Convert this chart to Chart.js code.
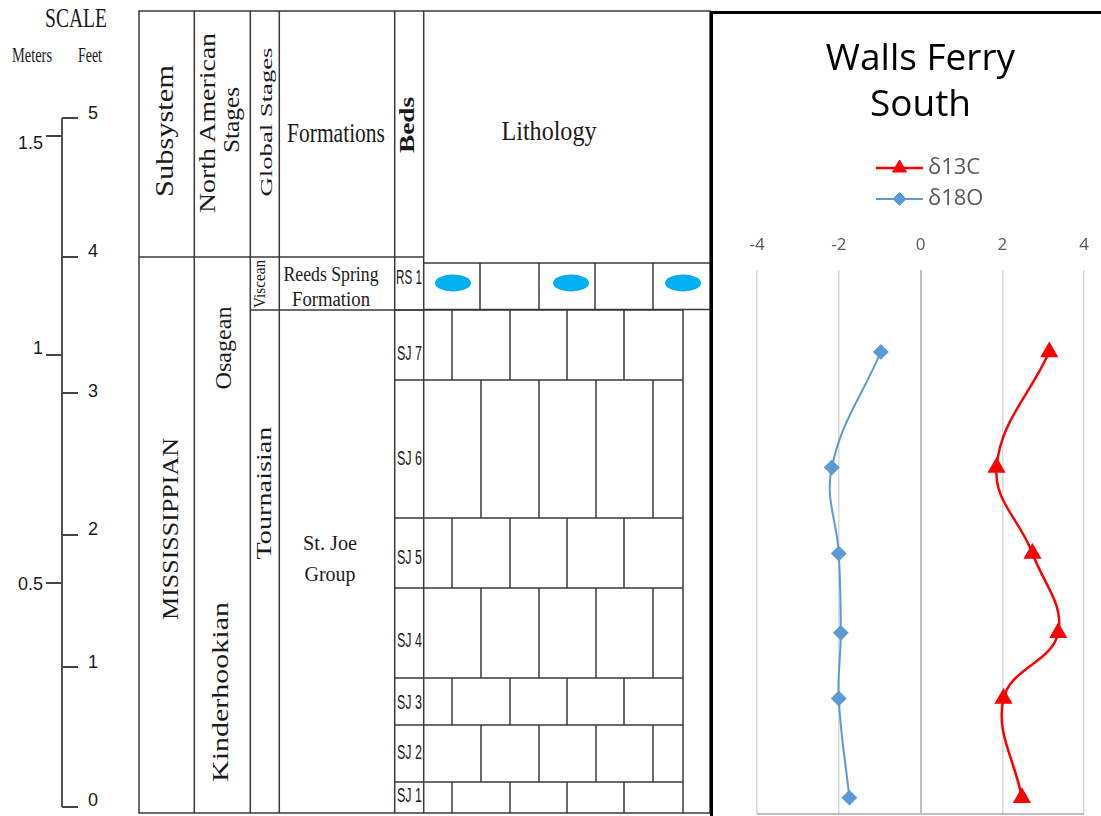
<!DOCTYPE html>
<html>
<head>
<meta charset="utf-8">
<script src="https://cdn.jsdelivr.net/npm/chart.js@4.4.0/dist/chart.umd.min.js"></script>
<style>
  html, body { margin: 0; padding: 0; background: #fff; }
  #page { position: relative; width: 1101px; height: 816px; overflow: hidden; }
  #column { position: absolute; left: 0; top: 0; }
  #panel {
    position: absolute; left: 710px; top: 11px; width: 391px; height: 805px;
    border-left: 3px solid #000; border-top: 3px solid #000;
    box-sizing: border-box; background: #fff;
  }
  #chart { display: block; }
</style>
</head>
<body>
<div id="page">
  <svg id="column" width="1101" height="816" xmlns="http://www.w3.org/2000/svg"></svg>
  <div id="panel"><canvas id="chart" width="388" height="802"></canvas></div>
</div>
<script>
// ---- chart data (height above base of section in metres) ----
const sampleHeights = [0.036, 0.255, 0.40, 0.575, 0.765, 1.02];
const d13C = [2.48, 2.03, 3.37, 2.74, 1.86, 3.15];
const d18O = [-1.74, -2.00, -1.95, -2.00, -2.17, -0.97];
const xTickValues = [-4, -2, 0, 2, 4];
const seriesNames = ['δ13C', 'δ18O'];
const chartTitle = ['Walls Ferry', 'South'];

// ---- stratigraphic column labels ----
const feetLabels = ['0', '1', '2', '3', '4', '5'];
const meterLabels = ['0.5', '1', '1.5'];
const bedNames = ['SJ 1', 'SJ 2', 'SJ 3', 'SJ 4', 'SJ 5', 'SJ 6', 'SJ 7'];

// Build the column on the left as svg
const svg = document.getElementById('column');
const NS = 'http://www.w3.org/2000/svg';
const SERIF = "'Liberation Serif', 'Times New Roman', serif";
const NARROW = "'Liberation Sans Narrow', 'Liberation Sans', sans-serif";
const CHART_FONT = "'Open Sans', Lato, sans-serif";

function add(tag, attrs, text) {
  const node = document.createElementNS(NS, tag);
  for (const k in attrs) node.setAttribute(k, attrs[k]);
  if (text !== undefined) node.textContent = text;
  svg.appendChild(node);
  return node;
}
function line(x1, y1, x2, y2, color = '#3a3a3a', w = 1.5) {
  add('line', { x1, y1, x2, y2, stroke: color, 'stroke-width': w });
}
// o: size, len, rotate, anchor, base, family, weight
function label(str, x, y, o) {
  const a = {
    x: 0, y: 0,
    'font-family': o.family || SERIF,
    'font-size': o.size,
    'font-weight': o.weight || 'normal',
    fill: '#1a1a1a',
    'text-anchor': o.anchor || 'middle',
    'dominant-baseline': o.base || 'central',
    transform: `translate(${x},${y})` + (o.rotate ? ' rotate(-90)' : '')
  };
  if (o.len) { a.textLength = o.len; a.lengthAdjust = 'spacingAndGlyphs'; }
  add('text', a, str);
}

// scale bar
label('SCALE', 76, 18, { size: 27, len: 62 });
label('Meters', 32, 55, { size: 20, len: 40 });
label('Feet', 90, 55, { size: 20, len: 24 });
line(62, 118, 62, 807, '#555', 2);
const feetY = [807, 667, 535, 393, 257, 118];
const feetLabelY = [800, 662, 529, 391, 251, 113];
feetLabels.forEach((t, i) => {
  line(62, feetY[i], 78, feetY[i], '#444', 2);
  label(t, 88, feetLabelY[i], { size: 18, anchor: 'start', family: NARROW });
});
const meterY = [583, 355, 136];
const meterLabelY = [584, 348, 143];
meterLabels.forEach((t, i) => {
  line(46, meterY[i], 62, meterY[i], '#444', 2);
  label(t, 43, meterLabelY[i], { size: 18, anchor: 'end', family: NARROW });
});

// table frame
add('rect', { x: 139, y: 11, width: 571, height: 802, fill: 'none', stroke: '#3a3a3a', 'stroke-width': 1.5 });
[194.3, 250.3, 279.3, 394.7, 423.7].forEach(x => line(x, 11, x, 813));
line(139, 257, 424, 257);
line(424, 263, 710, 263);
line(250, 310, 424, 310);
line(424, 309.5, 710, 309.5);
line(683, 310, 683, 813);

// lithology: chert nodules row then limestone bricks
[480, 539, 595, 653].forEach(x => line(x, 263, x, 310));
[453, 571, 683].forEach(cx => add('ellipse', { cx, cy: 283, rx: 18, ry: 8.5, fill: '#00b0f0' }));
const bedTops = [813, 782, 725, 678, 588, 518, 380, 310];
const bedLabelY = [795, 752, 702, 640, 557, 458, 353];
bedNames.forEach((name, i) => {
  const bottom = bedTops[i], top = bedTops[i + 1];
  line(395, top, 683, top);
  const xs = i % 2 === 0 ? [452, 510, 567, 624] : [481, 539, 596, 653];
  xs.forEach(x => line(x, top, x, bottom));
  label(name, 397, bedLabelY[i], { size: 20, anchor: 'start', len: 25, family: NARROW });
});

// header texts
label('Subsystem', 164, 131, { size: 26, len: 132, rotate: true });
label('North American', 207, 123, { size: 24, len: 180, rotate: true });
label('Stages', 231, 120, { size: 24, len: 66, rotate: true });
label('Global Stages', 266.5, 122, { size: 17, len: 149, rotate: true });
label('Formations', 336, 141.5, { size: 27, len: 98, base: 'alphabetic' });
label('Beds', 407, 125, { size: 20, len: 56, rotate: true, weight: 'bold' });
label('Lithology', 549, 140, { size: 28, len: 95, base: 'alphabetic' });

// body texts
label('MISSISSIPPIAN', 170, 529, { size: 23, len: 182, rotate: true });
label('Osagean', 223, 348, { size: 24, len: 83, rotate: true });
label('Kinderhookian', 220, 692, { size: 24, len: 180, rotate: true });
label('Viscean', 259, 284, { size: 17, len: 48, rotate: true });
label('Tournaisian', 263, 493, { size: 22, len: 133, rotate: true });
label('Reeds Spring', 331, 281, { size: 20, len: 95, base: 'alphabetic' });
label('Formation', 331, 306, { size: 20, len: 78, base: 'alphabetic' });
label('RS 1', 396, 277, { size: 20, len: 26, anchor: 'start', family: NARROW });
label('St. Joe', 330, 550, { size: 22, len: 54, base: 'alphabetic' });
label('Group', 330, 581, { size: 22, len: 51, base: 'alphabetic' });

// ---- isotope chart ----
const toPoints = xs => sampleHeights.map((h, i) => ({ x: xs[i], y: h }));

// legend drawn as two stacked rows, centred under the title
const stackedLegend = {
  id: 'stackedLegend',
  afterDraw(chart, args, opts) {
    const ctx = chart.ctx;
    ctx.save();
    chart.data.datasets.forEach((ds, i) => {
      const y = opts.top + i * opts.rowGap;
      ctx.strokeStyle = ds.borderColor;
      ctx.lineWidth = ds.borderWidth;
      ctx.beginPath();
      ctx.moveTo(opts.x, y);
      ctx.lineTo(opts.x + opts.lineLength, y);
      ctx.stroke();
      ctx.fillStyle = ds.pointBackgroundColor;
      ctx.strokeStyle = ds.pointBorderColor;
      ctx.lineWidth = 1;
      Chart.helpers.drawPoint(ctx, { pointStyle: ds.pointStyle, radius: ds.pointRadius, rotation: 0, borderWidth: 1 },
        opts.x + opts.lineLength / 2, y);
      ctx.fillStyle = opts.color;
      ctx.font = `${opts.size}px ${CHART_FONT}`;
      ctx.textAlign = 'left';
      ctx.textBaseline = 'middle';
      ctx.fillText(ds.label, opts.x + opts.lineLength + opts.gap, y);
    });
    ctx.restore();
  }
};

new Chart(document.getElementById('chart'), {
  type: 'scatter',
  data: {
    datasets: [
      {
        label: seriesNames[0],
        data: toPoints(d13C),
        showLine: true,
        tension: 0.4,
        borderColor: '#ff0000',
        borderWidth: 2.5,
        pointStyle: 'triangle',
        pointRadius: 8,
        pointBackgroundColor: '#ff0000',
        pointBorderColor: '#ff0000'
      },
      {
        label: seriesNames[1],
        data: toPoints(d18O),
        showLine: true,
        tension: 0.4,
        borderColor: '#5b9bd5',
        borderWidth: 2,
        pointStyle: 'rectRot',
        pointRadius: 6.5,
        pointBackgroundColor: '#5b9bd5',
        pointBorderColor: '#5b9bd5'
      }
    ]
  },
  options: {
    responsive: false,
    animation: false,
    layout: { autoPadding: false, padding: { left: 44, right: 17, top: 0, bottom: 2 } },
    scales: {
      x: {
        type: 'linear',
        position: 'top',
        min: -4,
        max: 4,
        afterBuildTicks: axis => { axis.ticks = xTickValues.map(v => ({ value: v })); },
        // edge labels may overhang; the layout padding already leaves room
        afterFit: axis => { axis.paddingLeft = 0; axis.paddingRight = 0; },
        ticks: { color: '#595959', font: { family: CHART_FONT, size: 17 }, padding: 15 },
        grid: {
          drawTicks: false,
          color: c => (c.tick && c.tick.value === 0 ? '#bdbdbd' : '#d9d9d9'),
          lineWidth: c => (c.tick && c.tick.value === 0 ? 2 : 1.5)
        },
        border: { display: false }
      },
      y: {
        min: 0,
        max: 1.2,
        ticks: { display: false },
        grid: {
          drawTicks: false,
          color: c => (c.tick && c.tick.value === 0 ? '#bdbdbd' : 'transparent'),
          lineWidth: 2
        },
        border: { display: false }
      }
    },
    plugins: {
      title: {
        display: true,
        text: chartTitle,
        color: '#000',
        font: { family: CHART_FONT, size: 37, weight: 'normal', lineHeight: 1.23 },
        padding: { top: 23, bottom: 92 }
      },
      legend: { display: false },
      tooltip: { enabled: false },
      stackedLegend: { x: 163, top: 154, rowGap: 31, lineLength: 47, gap: 5, size: 22, color: '#595959' }
    }
  },
  plugins: [stackedLegend]
});
</script>
</body>
</html>
